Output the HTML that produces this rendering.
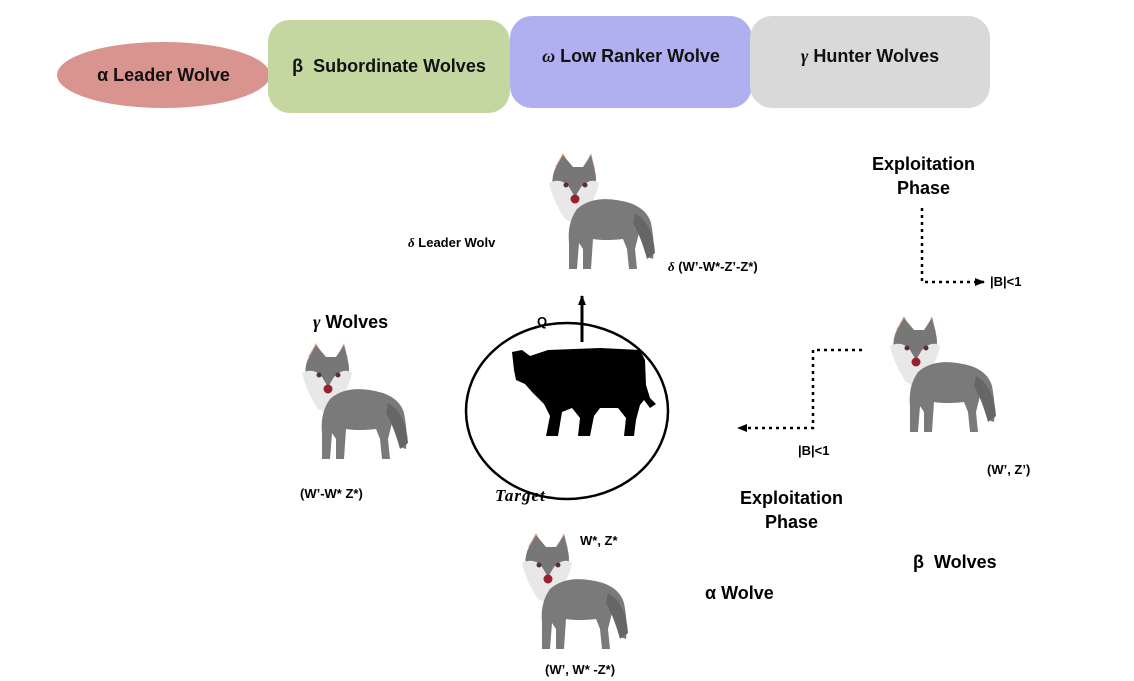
<!DOCTYPE html>
<html><head><meta charset="utf-8"><style>
body{margin:0;width:1134px;height:681px;background:#fff;position:relative;overflow:hidden;font-family:"Liberation Sans",sans-serif;}
.t{position:absolute;font-weight:bold;color:#000;white-space:nowrap;}
.h{position:absolute;display:flex;align-items:center;justify-content:center;font-weight:bold;font-size:18px;color:#111;}
</style></head><body>
<div class="h" style="left:57px;top:42px;width:213px;height:66px;border-radius:50%;background:#d99490;">α Leader Wolve</div>
<div class="h" style="left:268px;top:20px;width:242px;height:93px;border-radius:22px;background:#c4d7a0;">β&nbsp; Subordinate Wolves</div>
<div class="h" style="left:510px;top:16px;width:242px;height:92px;border-radius:22px;background:#b0b0f0;padding-bottom:12px;box-sizing:border-box;"><i style="font-family:'Liberation Serif',serif">ω</i>&nbsp;Low Ranker Wolve</div>
<div class="h" style="left:750px;top:16px;width:240px;height:92px;border-radius:22px;background:#d9d9d9;padding-bottom:12px;box-sizing:border-box;"><i style="font-family:'Liberation Serif',serif">γ</i>&nbsp;Hunter Wolves</div>

<svg width="1134" height="681" style="position:absolute;left:0;top:0">
<defs>
<g id="w">
<path d="M20 14 L28 0 L36 16 Z" fill="#e8a890"/><path d="M48 16 L56 0 L60 16 Z" fill="#e8a890"/>
<path d="M20 16 L28 2 L38 14 L48 14 L56 2 L60 18 Q64 34 52 52 L46 64 L30 64 L22 46 Q14 30 20 16Z" fill="#777"/>
<path d="M14 30 Q26 24 34 34 L40 44 L46 34 Q56 24 64 30 Q60 50 48 58 L42 72 L30 66 Q18 48 14 30Z" fill="#e8e8e8"/>
<circle cx="31" cy="32" r="2.5" fill="#533"/><circle cx="50" cy="32" r="2.5" fill="#533"/>
<circle cx="40" cy="46" r="4.5" fill="#9a2030"/>
<path d="M42 56 Q60 40 95 50 Q112 56 116 70 Q120 90 118 106 L112 104 Q108 90 104 80 L100 96 L102 116 L94 116 L92 96 L88 86 Q70 88 58 86 L56 116 L48 116 L48 96 L44 90 L42 116 L34 116 L34 90 Q32 70 42 56Z" fill="#7a7a7a"/>
<path d="M100 60 Q118 70 120 100 L112 106 Q106 84 98 70Z" fill="#666"/>
</g>
<marker id="a" markerWidth="10" markerHeight="8" refX="9" refY="4" orient="auto" markerUnits="userSpaceOnUse"><path d="M0 0 L10 4 L0 8Z" fill="#000"/></marker>
</defs>
<use href="#w" x="535" y="153"/>
<use href="#w" x="288" y="343"/>
<use href="#w" x="508" y="533"/>
<use href="#w" x="876" y="316"/>
<ellipse cx="567" cy="411" rx="101" ry="88" fill="none" stroke="#000" stroke-width="2.5"/>
<line x1="582" y1="342" x2="582" y2="296" stroke="#000" stroke-width="3" marker-end="url(#a)"/>
<path d="M512 352 L522 350 L530 356 L548 350 L600 348 L640 350 L645 360 L646 385 L650 398 L656 404 L650 408 L644 400 L640 405 L636 420 L634 436 L624 436 L626 418 L618 408 L600 408 L594 416 L590 436 L578 436 L580 418 L572 408 L562 412 L558 436 L546 436 L550 416 L544 404 L532 392 L525 384 L516 380 L514 370 Z" fill="#000"/>
<path d="M922 208 L922 282 L984 282" fill="none" stroke="#000" stroke-width="2.5" stroke-dasharray="3,4" marker-end="url(#a)"/>
<path d="M862 350 L813 350 L813 428 L738 428" fill="none" stroke="#000" stroke-width="2.5" stroke-dasharray="3,4" marker-end="url(#a)"/>
</svg>

<div class="t" style="left:408px;top:235px;font-size:13px;"><i style="font-family:'Liberation Serif',serif">δ</i> Leader Wolv</div>
<div class="t" style="left:668px;top:259px;font-size:13px;"><i style="font-family:'Liberation Serif',serif">δ</i> (W’-W*-Z’-Z*)</div>
<div class="t" style="left:872px;top:152px;font-size:18px;text-align:center;line-height:24px;">Exploitation<br>Phase</div>
<div class="t" style="left:990px;top:274px;font-size:13px;">|B|&lt;1</div>
<div class="t" style="left:313px;top:312px;font-size:18px;"><i style="font-family:'Liberation Serif',serif">γ</i> Wolves</div>
<div class="t" style="left:537px;top:314px;font-size:13px;">Q</div>
<div class="t" style="left:798px;top:443px;font-size:13px;">|B|&lt;1</div>
<div class="t" style="left:987px;top:462px;font-size:13px;">(W’, Z’)</div>
<div class="t" style="left:300px;top:486px;font-size:13px;">(W’-W* Z*)</div>
<div class="t" style="left:495px;top:486px;font-size:17px;font-family:'Liberation Serif',serif;font-style:italic;letter-spacing:1px;">Target</div>
<div class="t" style="left:740px;top:486px;font-size:18px;text-align:center;line-height:24px;">Exploitation<br>Phase</div>
<div class="t" style="left:580px;top:533px;font-size:13px;">W*, Z*</div>
<div class="t" style="left:913px;top:552px;font-size:18px;">β&nbsp; Wolves</div>
<div class="t" style="left:705px;top:583px;font-size:18px;">α Wolve</div>
<div class="t" style="left:545px;top:662px;font-size:13px;">(W’, W* -Z*)</div>
</body></html>
